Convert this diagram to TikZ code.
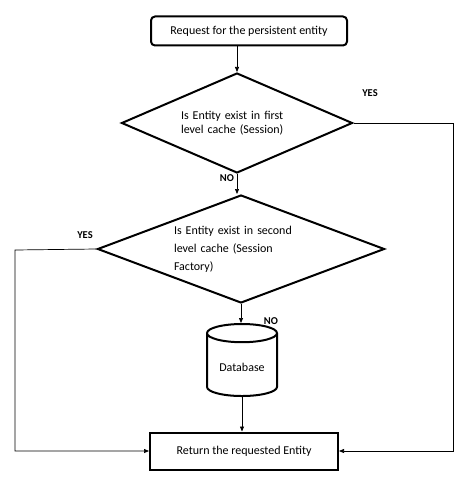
\documentclass[tikz,border=0pt]{standalone}
\usepackage{fontspec}
\setmainfont{Carlito}
\usetikzlibrary{shapes.geometric, arrows.meta}

\begin{document}
\begin{tikzpicture}[x=1pt, y=-1pt,
        box/.style = {draw, line width=2pt},
        decision/.style = {draw, diamond, line width=2pt, inner sep=0pt, align=left},
        answer/.style = {font=\fontsize{10.5}{12}\selectfont\bfseries},
        link/.style = {-{Triangle[length=5pt, width=4pt]}, line width=0.7pt},
        font=\fontsize{12}{14}\selectfont]
                \useasboundingbox (0,0) rectangle (474,484);

                \node[box, rounded corners=4pt, minimum width=196pt, minimum height=29pt] at (249,31) (request) {Request for the persistent entity};
                \node[decision, aspect=2.3, minimum width=231pt, minimum height=100pt, text width=112pt] at (237,123) (first) {Is Entity exist in first\\ level cache (Session)};
                \node[decision, aspect=2.66, minimum width=287pt, minimum height=108pt, text width=134pt] at (241,249) (second) {Is Entity exist in second\\[4pt] level cache (Session\\[4pt] Factory)};
                \node[draw, cylinder, shape border rotate=90, aspect=0.35, line width=2pt, minimum width=70pt, minimum height=72pt] at (242,367) (db) {Database};
                \node[box, minimum width=188pt, minimum height=37pt] at (244,451) (result) {Return the requested Entity};

                \node[answer] at (370,93) (yesfirst) {YES};
                \node[answer] at (227,178) (nofirst) {NO};
                \node[answer] at (85,235) (yessecond) {YES};
                \node[answer] at (271,321) (nosecond) {NO};

                \coordinate (rightturn) at (453,123);
                \coordinate (leftturn) at (15,250);

                \draw [link] (request.south -| first.north) -- (first.north);
                \draw [link] (first.south) -- (first.south |- second.north);
                \draw [link] (second.south) -- (second.south |- db.north);
                \draw [link] (db.south) -- (db.south |- result.north);

                \draw [link] (first.east) -- (rightturn) |- (result.east);
                \draw [link] (second.west) -- (leftturn) |- (result.west);
            \end{tikzpicture}
\end{document}
